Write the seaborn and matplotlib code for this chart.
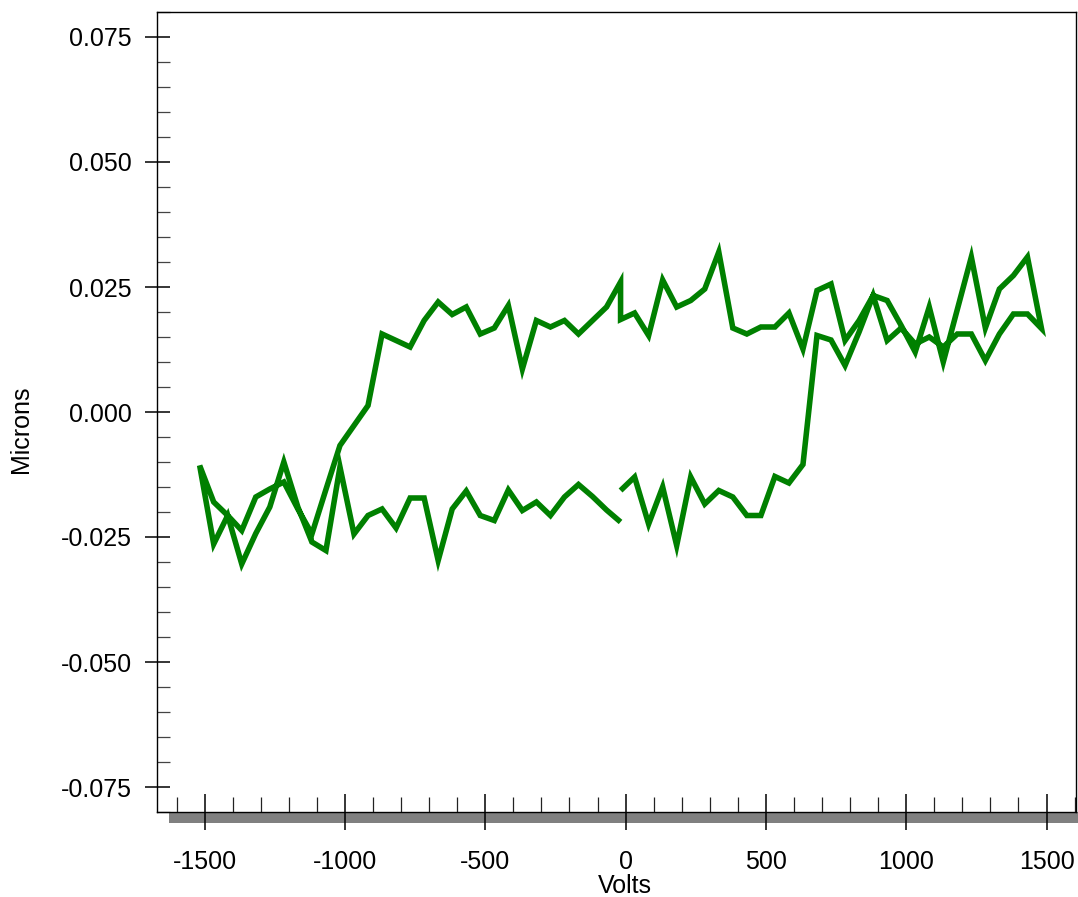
import numpy as np
import pandas as pd
import matplotlib
matplotlib.use("Agg")
import matplotlib.pyplot as plt
import seaborn as sns
from matplotlib.ticker import MultipleLocator, FormatStrFormatter
from matplotlib.patches import Rectangle

# ---------------- data ----------------
volts_pos = [-18, 32, 82, 132, 182, 232, 282, 332, 382, 432, 482, 532, 582, 632, 682,
             732, 782, 832, 882, 932, 982, 1032, 1082, 1132, 1182, 1232, 1282, 1332,
             1382, 1432, 1482]
volts_neg = [-18, -68, -118, -168, -218, -268, -318, -368, -418, -468, -518, -568, -618,
             -668, -718, -768, -818, -868, -918, -968, -1018, -1068, -1118, -1168,
             -1218, -1268, -1318, -1368, -1418, -1468, -1518]

# sweep 1: 0 -> +max
sweep1 = [-0.0157, -0.0130, -0.0224, -0.0150, -0.0267, -0.0130, -0.0184, -0.0157, -0.0170,
          -0.0207, -0.0207, -0.0129, -0.0142, -0.0105, 0.0153, 0.0144, 0.0093, 0.0160,
          0.0233, 0.0143, 0.0168, 0.0136, 0.0150, 0.0130, 0.0156, 0.0156, 0.0103, 0.0156,
          0.0196, 0.0196, 0.0167]
# sweep 2: +max -> 0
sweep2 = [0.0310, 0.0273, 0.0246, 0.0168, 0.0310, 0.0205, 0.0100, 0.0210, 0.0120, 0.0173,
          0.0223, 0.0233, 0.0183, 0.0143, 0.0256, 0.0243, 0.0126, 0.0198, 0.0170, 0.0170,
          0.0156, 0.0168, 0.0320, 0.0246, 0.0223, 0.0210, 0.0264, 0.0153, 0.0198, 0.0185]
# sweep 3: 0 -> -max
sweep3 = [0.0260, 0.0210, 0.0183, 0.0156, 0.0183, 0.0170, 0.0183, 0.0086, 0.0213, 0.0168,
          0.0156, 0.0210, 0.0195, 0.0220, 0.0183, 0.0130, 0.0143, 0.0156, 0.0013, -0.0027,
          -0.0067, -0.0155, -0.0244, -0.0194, -0.0140, -0.0154, -0.0170, -0.0237, -0.0207,
          -0.0180, -0.0107]
# sweep 4: -max -> 0
sweep4 = [-0.0264, -0.0207, -0.0304, -0.0243, -0.0190, -0.0100, -0.0190, -0.0260, -0.0277,
          -0.0110, -0.0244, -0.0207, -0.0194, -0.0232, -0.0172, -0.0172, -0.0297, -0.0194,
          -0.0158, -0.0207, -0.0217, -0.0156, -0.0197, -0.0180, -0.0207, -0.0170, -0.0145,
          -0.0169, -0.0196, -0.0220]

volts = volts_pos + volts_pos[-2::-1] + volts_neg + volts_neg[-2::-1]
microns = sweep1 + sweep2 + sweep3 + sweep4
df = pd.DataFrame({"Volts": volts, "Microns": microns})

# ---------------- style ----------------
sns.set_style("white")
plt.rcParams['font.family'] = ['Liberation Sans', 'DejaVu Sans']
plt.rcParams['axes.unicode_minus'] = False
plt.rcParams['text.color'] = 'black'
plt.rcParams['axes.labelcolor'] = 'black'
plt.rcParams['xtick.color'] = 'black'
plt.rcParams['ytick.color'] = 'black'

W, H = 1078, 897
fig = plt.figure(figsize=(W / 100, H / 100), dpi=100)
ax = fig.add_axes([157 / W, 1 - 812 / H, (1076 - 157) / W, (812 - 12) / H])

sns.lineplot(data=df, x="Volts", y="Microns", sort=False, estimator=None, ax=ax,
             color="#008000", linewidth=4.0, solid_joinstyle="miter",
             solid_capstyle="butt", zorder=3)

ax.set_xlim(-1670, 1605)
ax.set_ylim(-0.08, 0.08)
ax.xaxis.set_major_locator(MultipleLocator(500))
ax.xaxis.set_minor_locator(MultipleLocator(100))
ax.yaxis.set_major_locator(MultipleLocator(0.025))
ax.yaxis.set_minor_locator(MultipleLocator(0.005))
ax.yaxis.set_major_formatter(FormatStrFormatter('%.3f'))
ax.xaxis.set_major_formatter(FormatStrFormatter('%d'))

fs = 18
ax.tick_params(axis='x', which='major', direction='inout', length=26, width=1.1,
               color='black', labelcolor='black', pad=14, labelsize=fs,
               bottom=True, top=False)
ax.tick_params(axis='x', which='minor', direction='in', length=10.8, width=0.9,
               color='#222222', bottom=True, top=False)
ax.tick_params(axis='y', which='major', direction='inout', length=18, width=1.1,
               color='black', labelcolor='black', pad=9, labelsize=fs,
               left=True, right=False)
ax.tick_params(axis='y', which='minor', direction='in', length=9.4, width=0.9,
               color='#444444', left=True, right=False)

for s in ax.spines.values():
    s.set_visible(True)
    s.set_color('black')
    s.set_linewidth(1.0)

# grey band under the x axis
ax.add_patch(Rectangle((12 / 919, -11 / 800), (1078 - 169) / 919, 11 / 800,
                       transform=ax.transAxes, clip_on=False, facecolor='#808080',
                       edgecolor='none', zorder=0.5))

ax.set_xlabel("Volts", fontsize=fs, color='black')
ax.set_ylabel("Microns", fontsize=fs, color='black')
ax.xaxis.set_label_coords(0.509, -0.078)
ax.yaxis.set_label_coords(-0.135, 0.479)

fig.savefig("out.png", dpi=100)
